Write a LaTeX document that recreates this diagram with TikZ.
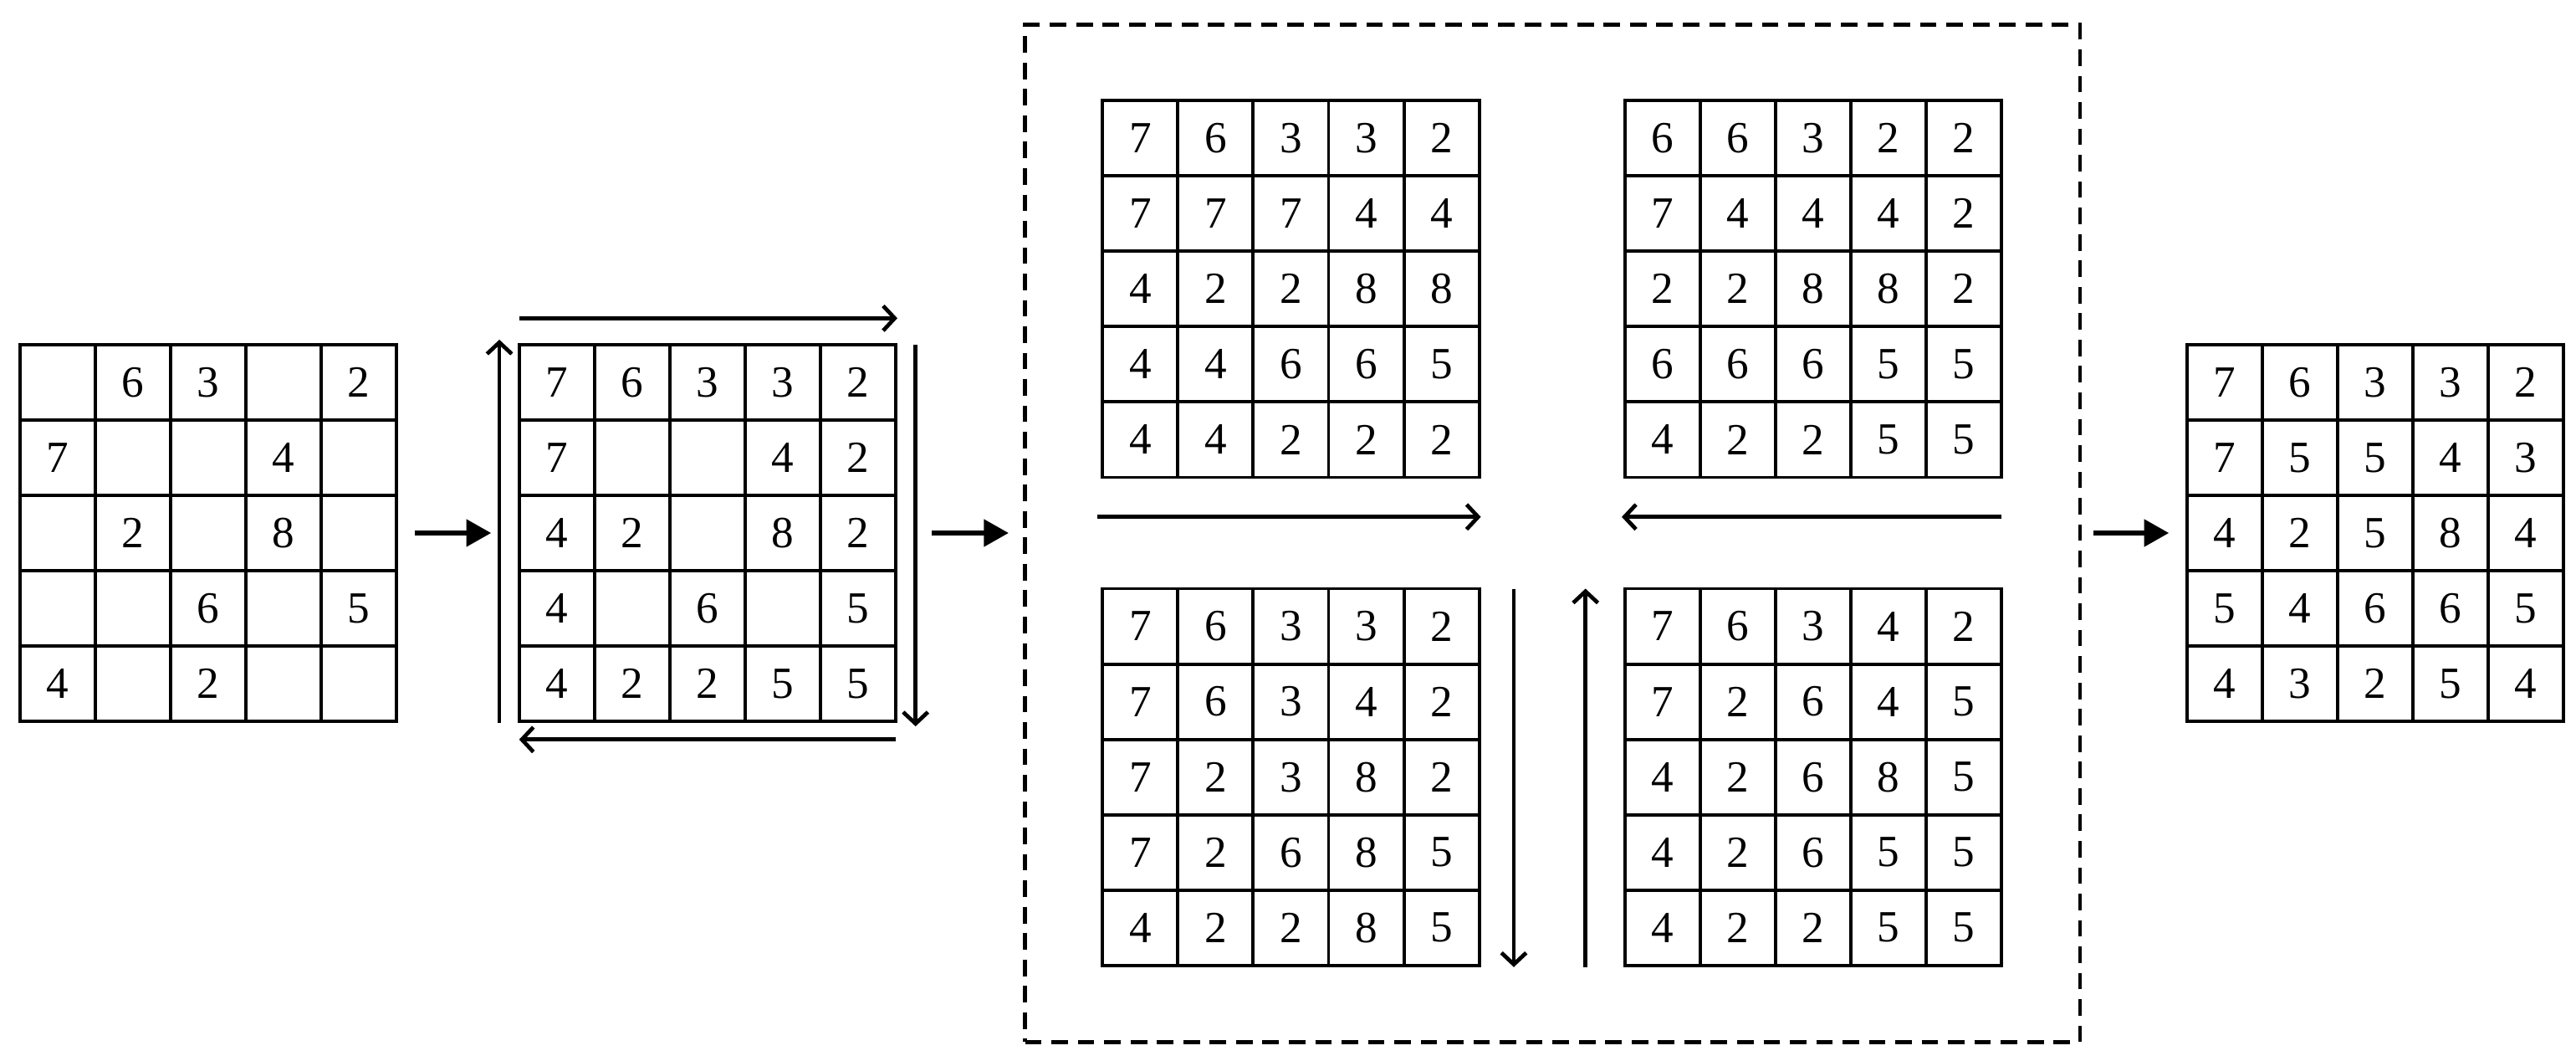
\documentclass[tikz,border=0pt]{standalone}
\usepackage{fontspec}
\setmainfont{Liberation Serif}
\usetikzlibrary{arrows.meta}
\tikzset{
  cellbox/.style={draw,line width=2pt,minimum size=45.7pt,inner sep=0pt,outer sep=0pt,anchor=north west,font=\fontsize{27}{30}\selectfont},
  fillarrow/.style={line width=3pt,-{Triangle[length=15pt,width=16pt]}},
  openarrow/.style={line width=2.4pt,-{Straight Barb[length=7pt,width=15pt,line width=2.4pt]}}
}
\newcommand{\mygrid}[4]{%
  \foreach \rr [count=\i] in {#4} {
    \foreach \vv [count=\j] in \rr {
      \node[cellbox] (#1-\i-\j) at ({#2+(\j-1)*45.7},{#3+(\i-1)*45.7}) {\vv};
    }
  }
}
\begin{document}
\begin{tikzpicture}[x=1pt,y=-1pt]
\useasboundingbox (0,0) rectangle (1563,643);
\mygrid{a}{12}{209}{{{},6,3,{},2},{7,{},{},4,{}},{{},2,{},8,{}},{{},{},6,{},5},{4,{},2,{},{}}}
\mygrid{b}{315}{209}{{7,6,3,3,2},{7,{},{},4,2},{4,2,{},8,2},{4,{},6,{},5},{4,2,2,5,5}}
\mygrid{c}{669}{61}{{7,6,3,3,2},{7,7,7,4,4},{4,2,2,8,8},{4,4,6,6,5},{4,4,2,2,2}}
\mygrid{d}{986}{61}{{6,6,3,2,2},{7,4,4,4,2},{2,2,8,8,2},{6,6,6,5,5},{4,2,2,5,5}}
\mygrid{e}{669}{357}{{7,6,3,3,2},{7,6,3,4,2},{7,2,3,8,2},{7,2,6,8,5},{4,2,2,8,5}}
\mygrid{f}{986}{357}{{7,6,3,4,2},{7,2,6,4,5},{4,2,6,8,5},{4,2,6,5,5},{4,2,2,5,5}}
\mygrid{g}{1327}{209}{{7,6,3,3,2},{7,5,5,4,3},{4,2,5,8,4},{5,4,6,6,5},{4,3,2,5,4}}
\node[draw,line width=2.4pt,dash pattern=on 10pt off 6pt,outer sep=0pt,minimum width=640pt,minimum height=617pt,anchor=north west] (box) at (622,15) {};
% main arrows
\draw[fillarrow] ([xshift=11pt]a-3-5.east) -- ([xshift=-17pt]b-3-1.west);
\draw[fillarrow] ([xshift=22pt]b-3-5.east) -- ([xshift=-10pt]box.west |- b-3-5.east);
\draw[fillarrow] ([xshift=8pt]box.east |- g-3-1.west) -- ([xshift=-11pt]g-3-1.west);
% around grid b
\draw[openarrow] ([yshift=16pt]b-1-1.north west) -- ([yshift=16pt,xshift=1pt]b-1-5.north east);
\draw[openarrow] ([xshift=12pt]b-1-5.north east) -- ([xshift=12pt,yshift=-3pt]b-5-5.south east);
\draw[openarrow] ([yshift=-11pt]b-5-5.south east) -- ([yshift=-11pt]b-5-1.south west);
\draw[openarrow] ([xshift=-12pt,yshift=-1pt]b-5-1.south west) -- ([xshift=-12pt,yshift=3pt]b-1-1.north west);
% inside box
\draw[openarrow] ([xshift=-3pt,yshift=-24pt]c-5-1.south west) -- ([xshift=1pt,yshift=-24pt]c-5-5.south east);
\draw[openarrow] ([yshift=-24pt]d-5-5.south east) -- ([xshift=-2pt,yshift=-24pt]d-5-1.south west);
\draw[openarrow] ([xshift=21pt]e-1-5.north east) -- ([xshift=21pt,yshift=-1pt]e-5-5.south east);
\draw[openarrow] ([xshift=-24pt,yshift=-1pt]f-5-1.south west) -- ([xshift=-24pt]f-1-1.north west);
\end{tikzpicture}
\end{document}
